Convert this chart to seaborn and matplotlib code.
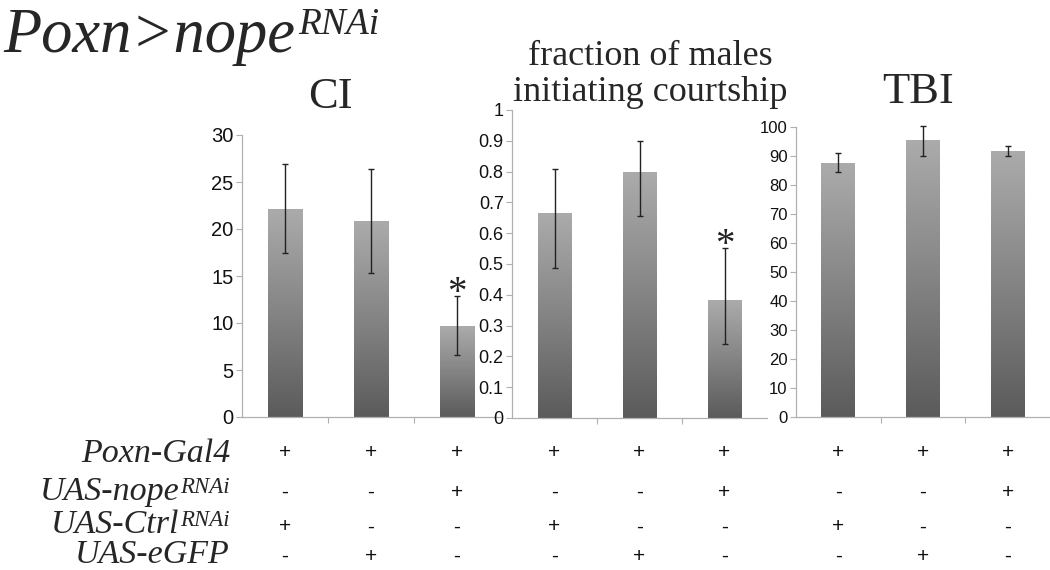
import numpy as np
import pandas as pd
import matplotlib
matplotlib.use("Agg")
import matplotlib.pyplot as plt
import matplotlib.transforms as mtransforms
from matplotlib.colors import LinearSegmentedColormap
import seaborn as sns

# ---------------- data ----------------
genotypes = ["ctrl_rnai", "egfp", "nope_rnai"]

ci_mean = [22.1, 20.85, 9.6]
ci_lo = [17.4, 15.35, 6.55]
ci_hi = [26.9, 26.4, 12.9]

frac_mean = [0.665, 0.798, 0.381]
frac_lo = [0.486, 0.656, 0.24]
frac_hi = [0.807, 0.899, 0.551]

tbi_mean = [87.5, 95.3, 91.5]
tbi_lo = [84.4, 90.1, 90.0]
tbi_hi = [90.9, 100.4, 93.6]

ci_ticks = [0, 5, 10, 15, 20, 25, 30]
frac_ticks = [0, 0.1, 0.2, 0.3, 0.4, 0.5, 0.6, 0.7, 0.8, 0.9, 1]
frac_ticklabels = ["0", "0.1", "0.2", "0.3", "0.4", "0.5", "0.6", "0.7", "0.8", "0.9", "1"]
tbi_ticks = [0, 10, 20, 30, 40, 50, 60, 70, 80, 90, 100]

row_main = ["Poxn-Gal4", "UAS-nope", "UAS-Ctrl", "UAS-eGFP"]
row_sup = ["", "RNAi", "RNAi", ""]
row_signs = [
    ["+", "+", "+"],
    ["-", "-", "+"],
    ["+", "-", "-"],
    ["-", "+", "-"],
]

# ---------------- style ----------------
sns.set_theme(style="white")
plt.rcParams["font.family"] = ["Liberation Sans", "DejaVu Sans"]

W, H = 1050, 570
fig = plt.figure(figsize=(W / 100, H / 100), dpi=100)
renderer = fig.canvas.get_renderer()

def fy(y):
    return 1 - y / H

def ax_rect(left, right, top, bottom):
    return [left / W, 1 - bottom / H, (right - left) / W, (bottom - top) / H]

ax1 = fig.add_axes(ax_rect(242, 500, 135, 417))
ax2 = fig.add_axes(ax_rect(512, 767, 110, 418))
ax3 = fig.add_axes(ax_rect(796, 1050, 127, 417))

cmap = LinearSegmentedColormap.from_list("g", ["#5b5b5b", "#848484", "#ababab"])
grad = np.linspace(0, 1, 256).reshape(-1, 1)

def panel(ax, mean, lo, hi, ymax, ticks, ticklabels, fs):
    df = pd.DataFrame({"g": genotypes, "v": mean})
    sns.barplot(data=df, x="g", y="v", ax=ax, width=0.4, errorbar=None,
                color="#888888", order=genotypes)
    for p in ax.patches:
        x0, y0 = p.get_x(), p.get_y()
        w, h = p.get_width(), p.get_height()
        ax.imshow(grad, extent=[x0, x0 + w, y0, y0 + h], origin="lower",
                  aspect="auto", cmap=cmap, zorder=2)
        p.set_facecolor("none")
        p.set_edgecolor("none")
    m = np.array(mean)
    ax.errorbar(np.arange(len(mean)), m, yerr=[m - np.array(lo), np.array(hi) - m],
                fmt="none", ecolor="#222222", elinewidth=1.0, capsize=2.5,
                capthick=1.0, zorder=3, clip_on=False)
    ax.set_xlim(-0.5, len(mean) - 0.5)
    ax.set_ylim(0, ymax)
    ax.set_yticks(ticks)
    ax.set_yticklabels(ticklabels, fontsize=fs, color="#111111")
    ax.set_xticks([])
    ax.set_xticks([0.5, 1.5], minor=True)
    ax.tick_params(axis="x", which="minor", bottom=True, length=4, width=0.8,
                   color="#b0b0b0", direction="out")
    ax.tick_params(axis="y", left=True, length=4, width=0.8, color="#b0b0b0",
                   direction="out", pad=2)
    ax.set_xlabel("")
    ax.set_ylabel("")
    for s in ["top", "right"]:
        ax.spines[s].set_visible(False)
    for s in ["left", "bottom"]:
        ax.spines[s].set_color("#b0b0b0")
        ax.spines[s].set_linewidth(0.9)
    ax.set_facecolor("white")

panel(ax1, ci_mean, ci_lo, ci_hi, 30, ci_ticks, [str(t) for t in ci_ticks], 14.5)
panel(ax2, frac_mean, frac_lo, frac_hi, 1, frac_ticks, frac_ticklabels, 13)
panel(ax3, tbi_mean, tbi_lo, tbi_hi, 100, tbi_ticks, [str(t) for t in tbi_ticks], 12)

# significance stars
for ax, hi in [(ax1, ci_hi), (ax2, frac_hi)]:
    ax.annotate("*", xy=(2, hi[2]), xytext=(0, -5), textcoords="offset points",
                ha="center", va="baseline", fontsize=28, family="Liberation Serif",
                color="#222222", annotation_clip=False)

serif = "Liberation Serif"

# main title with superscript
title_fs = 45
t_main = fig.text(3 / W, fy(52), "Poxn>nope", fontsize=title_fs, family=serif,
                  style="italic", ha="left", va="baseline")
bb = t_main.get_window_extent(renderer)
cap_top = 52 - 0.66 * title_fs * 100 / 72
fig.text((bb.x1 + 3) / W, fy(cap_top - 3), "RNAi", fontsize=27, family=serif,
         style="italic", ha="left", va="top")

# panel titles
fig.text(330 / W, fy(108), "CI", fontsize=32, family=serif, ha="center", va="baseline")
fig.text(650 / W, fy(65), "fraction of males", fontsize=26, family=serif,
         ha="center", va="baseline")
fig.text(650 / W, fy(101), "initiating courtship", fontsize=26, family=serif,
         ha="center", va="baseline")
fig.text(918 / W, fy(103), "TBI", fontsize=32, family=serif, ha="center", va="baseline")

# genotype table labels
row_base = [462, 500, 533, 563]
lab_fs = 24.5
sup_fs = 16.5
x_right = 230
for main, sup, yb in zip(row_main, row_sup, row_base):
    xr = x_right
    if sup:
        top = yb - 0.66 * lab_fs * 100 / 72
        ts = fig.text(xr / W, fy(top - 1), sup, fontsize=sup_fs, family=serif,
                      style="italic", ha="right", va="top")
        sb = ts.get_window_extent(renderer)
        xr = sb.x0 - 1
    fig.text(xr / W, fy(yb), main, fontsize=lab_fs, family=serif, style="italic",
             ha="right", va="baseline")

# +/- table aligned to bar centres
row_y = [453, 492, 527, 556]
for ax in [ax1, ax2, ax3]:
    tr = mtransforms.blended_transform_factory(ax.transData, fig.transFigure)
    for signs, yy in zip(row_signs, row_y):
        for i, s in enumerate(signs):
            fig.text(i, fy(yy), s, transform=tr, fontsize=15, ha="center",
                     va="center", color="#111111", family="Liberation Sans")

fig.savefig("out.png", dpi=100, facecolor="white")
